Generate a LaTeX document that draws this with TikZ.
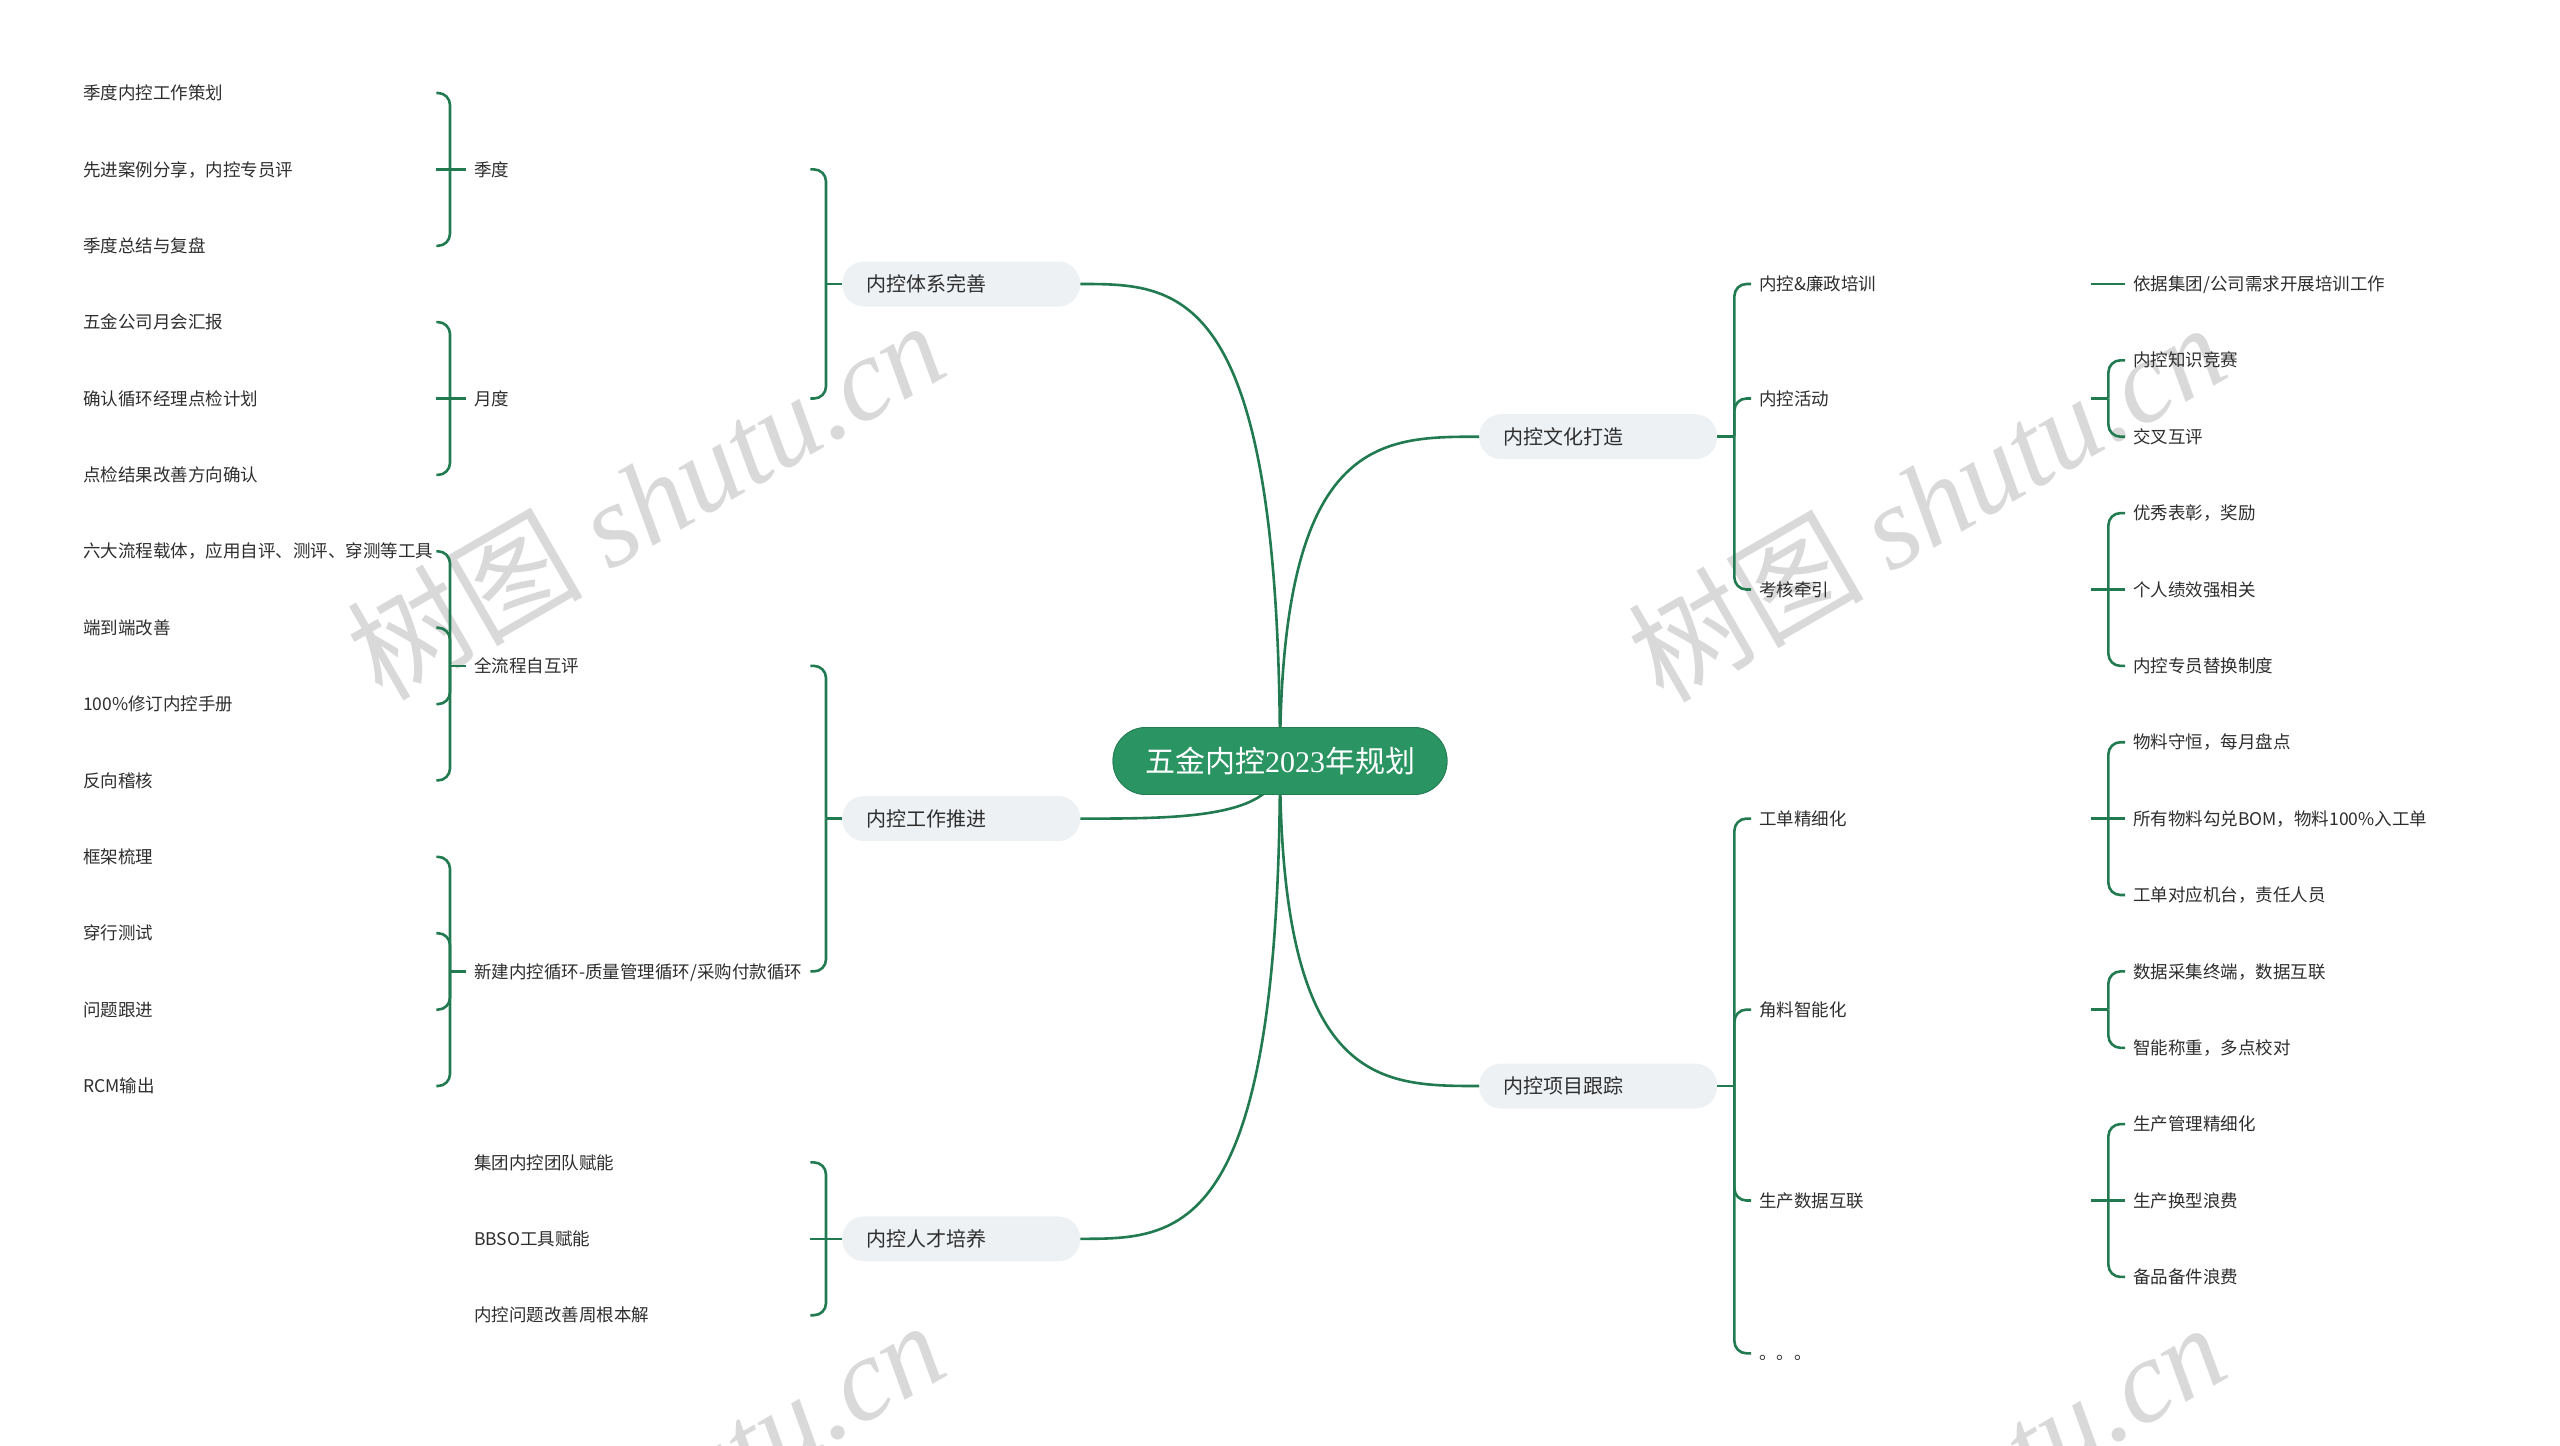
\documentclass[tikz,border=0pt]{standalone}
\usepackage{fontspec}
\setmainfont{Noto Sans CJK SC}
\newfontfamily\latinserif{Liberation Serif}
\usetikzlibrary{calc}
\definecolor{lnk}{HTML}{217A50}
\definecolor{rootg}{HTML}{2A9463}
\definecolor{pillc}{HTML}{EEF1F4}
\definecolor{txt}{HTML}{2E2E2E}
\definecolor{wm}{HTML}{D9D9D9}
\begin{document}
\begin{tikzpicture}[x=1pt,y=-1pt,
  link/.style={draw=lnk, line width=2.6pt},
  brk/.style={link, rounded corners=12pt},
  rootnode/.style={fill=rootg, draw=rootg!85!black, line width=0.8pt, rounded corners=33pt,
    minimum width=334pt, minimum height=67pt, text=white, inner sep=0pt,
    font=\fontsize{30pt}{35pt}\selectfont},
  topic/.style={anchor=west, fill=pillc, rounded corners=22pt, minimum height=45pt,
    text width=190pt, inner xsep=24pt, inner ysep=0pt, align=left, text=txt,
    font=\fontsize{20pt}{24pt}\selectfont},
  basetxt/.style={anchor=west, text=txt, inner ysep=2pt, text height=15.4pt, text depth=2.1pt,
    font=\fontsize{17.5pt}{21pt}\selectfont},
  leftsub/.style={basetxt, text width=328pt, inner xsep=8pt, align=left},
  leftleaf/.style={basetxt, text width=345pt, inner xsep=8pt, align=left},
  rightsub/.style={basetxt, text width=324pt, inner xsep=8pt, align=left},
  rightleaf/.style={basetxt, inner xsep=8pt},
  wmark/.style={text=wm, rotate=30, inner sep=0pt, font=\fontsize{118pt}{128pt}\selectfont}
]
\useasboundingbox (0,0) rectangle (2560,1446);
\fill[white] (0,0) rectangle (2560,1446);
\begin{scope}
\clip (0,0) rectangle (2560,1446);
% watermarks
\node[wmark] (wm1) at (645,499) {树图 {\latinserif\itshape shutu.cn}};
\node[wmark] (wm2) at (1926,501) {树图 {\latinserif\itshape shutu.cn}};
\node[wmark] (wm3) at (645,1499) {树图 {\latinserif\itshape shutu.cn}};
\node[wmark] (wm4) at (1926,1501) {树图 {\latinserif\itshape shutu.cn}};
\end{scope}

% ---------- nodes ----------
\node[rootnode] (root) at (1280,761) {五金内控{\latinserif 2023}年规划};

\node[topic] (A) at (842,284) {内控体系完善};
\node[topic] (B) at (842,818.6) {内控工作推进};
\node[topic] (C) at (842,1238.8) {内控人才培养};
\node[topic] (D) at (1479,436.7) {内控文化打造};
\node[topic] (E) at (1479,1086) {内控项目跟踪};

% left level 2
\node[leftsub] (s1) at (466,169.4) {季度};
\node[leftsub] (s2) at (466,398.5) {月度};
\node[leftsub] (s3) at (466,665.9) {全流程自互评};
\node[leftsub] (s4) at (466,971.4) {新建内控循环-质量管理循环/采购付款循环};
\node[leftsub] (s5) at (466,1162.4) {集团内控团队赋能};
\node[leftsub] (s6) at (466,1238.8) {BBSO工具赋能};
\node[leftsub] (s7) at (466,1315.2) {内控问题改善周根本解};

% left level 3
\node[leftleaf] (l1) at (75,93) {季度内控工作策划};
\node[leftleaf] (l2) at (75,169.4) {先进案例分享，内控专员评};
\node[leftleaf] (l3) at (75,245.8) {季度总结与复盘};
\node[leftleaf] (l4) at (75,322.1) {五金公司月会汇报};
\node[leftleaf] (l5) at (75,398.5) {确认循环经理点检计划};
\node[leftleaf] (l6) at (75,474.9) {点检结果改善方向确认};
\node[leftleaf] (l7) at (75,551.3) {六大流程载体，应用自评、测评、穿测等工具};
\node[leftleaf] (l8) at (75,627.7) {端到端改善};
\node[leftleaf] (l9) at (75,704.1) {100\%修订内控手册};
\node[leftleaf] (l10) at (75,780.4) {反向稽核};
\node[leftleaf] (l11) at (75,856.8) {框架梳理};
\node[leftleaf] (l12) at (75,933.2) {穿行测试};
\node[leftleaf] (l13) at (75,1009.6) {问题跟进};
\node[leftleaf] (l14) at (75,1086) {RCM输出};

% right level 2
\node[rightsub] (r1) at (1751,284) {内控\&廉政培训};
\node[rightsub] (r2) at (1751,398.5) {内控活动};
\node[rightsub] (r3) at (1751,589.5) {考核牵引};
\node[rightsub] (r4) at (1751,818.6) {工单精细化};
\node[rightsub] (r5) at (1751,1009.6) {角料智能化};
\node[rightsub] (r6) at (1751,1200.5) {生产数据互联};
\node[rightsub] (r7) at (1751,1353.3) {。。。};

% right level 3
\node[rightleaf] (q1) at (2125,284) {依据集团/公司需求开展培训工作};
\node[rightleaf] (q2) at (2125,360.3) {内控知识竞赛};
\node[rightleaf] (q3) at (2125,436.7) {交叉互评};
\node[rightleaf] (q4) at (2125,513.1) {优秀表彰，奖励};
\node[rightleaf] (q5) at (2125,589.5) {个人绩效强相关};
\node[rightleaf] (q6) at (2125,665.9) {内控专员替换制度};
\node[rightleaf] (q7) at (2125,742.2) {物料守恒，每月盘点};
\node[rightleaf] (q8) at (2125,818.6) {所有物料勾兑BOM，物料100\%入工单};
\node[rightleaf] (q9) at (2125,895) {工单对应机台，责任人员};
\node[rightleaf] (q10) at (2125,971.4) {数据采集终端，数据互联};
\node[rightleaf] (q11) at (2125,1047.8) {智能称重，多点校对};
\node[rightleaf] (q12) at (2125,1124.1) {生产管理精细化};
\node[rightleaf] (q13) at (2125,1200.5) {生产换型浪费};
\node[rightleaf] (q14) at (2125,1276.9) {备品备件浪费};

% ---------- root connectors (behind root) ----------
\foreach \t in {A,B,C}{
  \draw[link] (root.center) .. controls (root.center |- \t.east) and ($(\t.east)+(100,0)$) .. (\t.east);
}
\foreach \t in {D,E}{
  \draw[link] (root.center) .. controls (root.center |- \t.west) and ($(\t.west)+(-100,0)$) .. (\t.west);
}
% redraw root on top of its connectors
\node[rootnode] (rootTop) at (root.center) {五金内控{\latinserif 2023}年规划};

% ---------- left brackets ----------
\foreach \p in {A,B,C,s1,s2,s3,s4}{
  \coordinate (j\p) at ($(\p.west)+(-16,0)$);
  \draw[link] (\p.west) -- (j\p);
}
\foreach \p/\c in {A/s1,A/s2,B/s3,B/s4,C/s5,C/s7,
                   s1/l1,s1/l3,s2/l4,s2/l6,s3/l7,s3/l8,s3/l9,s3/l10,
                   s4/l11,s4/l12,s4/l13,s4/l14}{
  \draw[brk] (j\p) |- (\c.east);
}
\foreach \p/\c in {C/s6,s1/l2,s2/l5}{
  \draw[link] (j\p) -- (\c.east);
}

% ---------- right brackets ----------
\foreach \p in {D,E,r1,r2,r3,r4,r5,r6}{
  \coordinate (j\p) at ($(\p.east)+(17,0)$);
  \draw[link] (\p.east) -- (j\p);
}
\foreach \p/\c in {D/r1,D/r2,D/r3,E/r4,E/r5,E/r6,E/r7,
                   r2/q2,r2/q3,r3/q4,r3/q6,r4/q7,r4/q9,r5/q10,r5/q11,r6/q12,r6/q14}{
  \draw[brk] (j\p) |- (\c.west);
}
\foreach \p/\c in {r1/q1,r3/q5,r4/q8,r6/q13}{
  \draw[link] (j\p) -- (\c.west);
}
\end{tikzpicture}
\end{document}
